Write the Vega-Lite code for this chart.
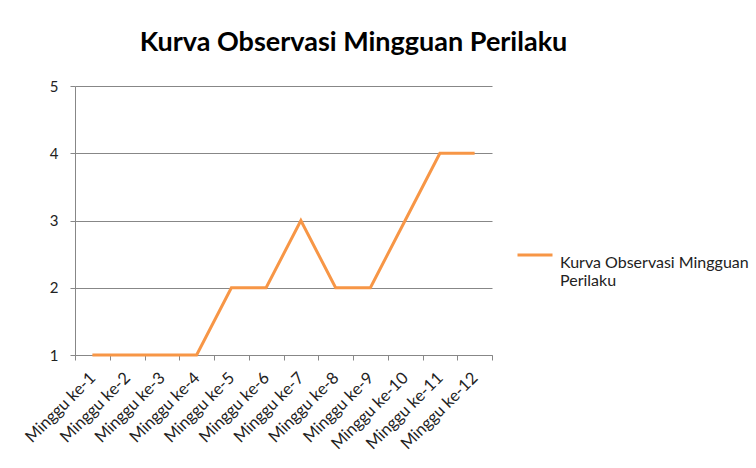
{
  "$schema": "https://vega.github.io/schema/vega-lite/v6.json",
  "width": 417,
  "height": 269,
  "autosize": {"type": "none"},
  "padding": {"left": 75, "top": 86, "right": 264, "bottom": 113},
  "background": "white",
  "title": {
    "text": "Kurva Observasi Mingguan Perilaku",
    "font": "Lato",
    "fontSize": 27,
    "fontWeight": "bold",
    "color": "#000000",
    "anchor": "middle",
    "dx": 70,
    "offset": 22
  },
  "data": {
    "values": [
      {"minggu": "Minggu ke-1", "nilai": 1},
      {"minggu": "Minggu ke-2", "nilai": 1},
      {"minggu": "Minggu ke-3", "nilai": 1},
      {"minggu": "Minggu ke-4", "nilai": 1},
      {"minggu": "Minggu ke-5", "nilai": 2},
      {"minggu": "Minggu ke-6", "nilai": 2},
      {"minggu": "Minggu ke-7", "nilai": 3},
      {"minggu": "Minggu ke-8", "nilai": 2},
      {"minggu": "Minggu ke-9", "nilai": 2},
      {"minggu": "Minggu ke-10", "nilai": 3},
      {"minggu": "Minggu ke-11", "nilai": 4},
      {"minggu": "Minggu ke-12", "nilai": 4}
    ]
  },
  "mark": {"type": "line", "strokeWidth": 3, "color": "#F79646", "strokeJoin": "miter"},
  "encoding": {
    "x": {
      "field": "minggu",
      "type": "nominal",
      "sort": null,
      "bandPosition": 0.5,
      "scale": {"type": "band", "paddingInner": 0, "paddingOuter": 0},
      "axis": {
        "title": null,
        "tickBand": "extent",
        "labelAngle": -45,
        "labelAlign": "right",
        "labelBaseline": "middle",
        "labelPadding": 15,
        "labelFont": "Lato",
        "labelFontSize": 16.5,
        "labelColor": "#222222",
        "domainColor": "#878787",
        "tickColor": "#878787",
        "tickSize": 5,
        "grid": false
      }
    },
    "y": {
      "field": "nilai",
      "type": "quantitative",
      "scale": {"domain": [1, 5], "nice": false, "zero": false},
      "axis": {
        "title": null,
        "values": [1, 2, 3, 4, 5],
        "labelFont": "Lato",
        "labelFontSize": 15,
        "labelColor": "#222222",
        "labelPadding": 12,
        "domainColor": "#878787",
        "tickColor": "#878787",
        "tickSize": 5,
        "gridColor": "#878787",
        "grid": true
      }
    },
    "color": {
      "datum": "Kurva Observasi Mingguan Perilaku",
      "type": "nominal",
      "scale": {"range": ["#F79646"]},
      "legend": {
        "title": null,
        "orient": "none",
        "legendX": 441,
        "legendY": 150,
        "symbolType": "stroke",
        "symbolSize": 1225,
        "symbolStrokeWidth": 3,
        "symbolStrokeColor": "#F79646",
        "labelExpr": "['Kurva Observasi Mingguan', 'Perilaku']",
        "labelFont": "Lato",
        "labelFontSize": 16,
        "labelColor": "#222222",
        "labelOffset": 6,
        "labelBaseline": "top",
        "labelLimit": 300
      }
    }
  },
  "config": {"view": {"stroke": null}}
}
